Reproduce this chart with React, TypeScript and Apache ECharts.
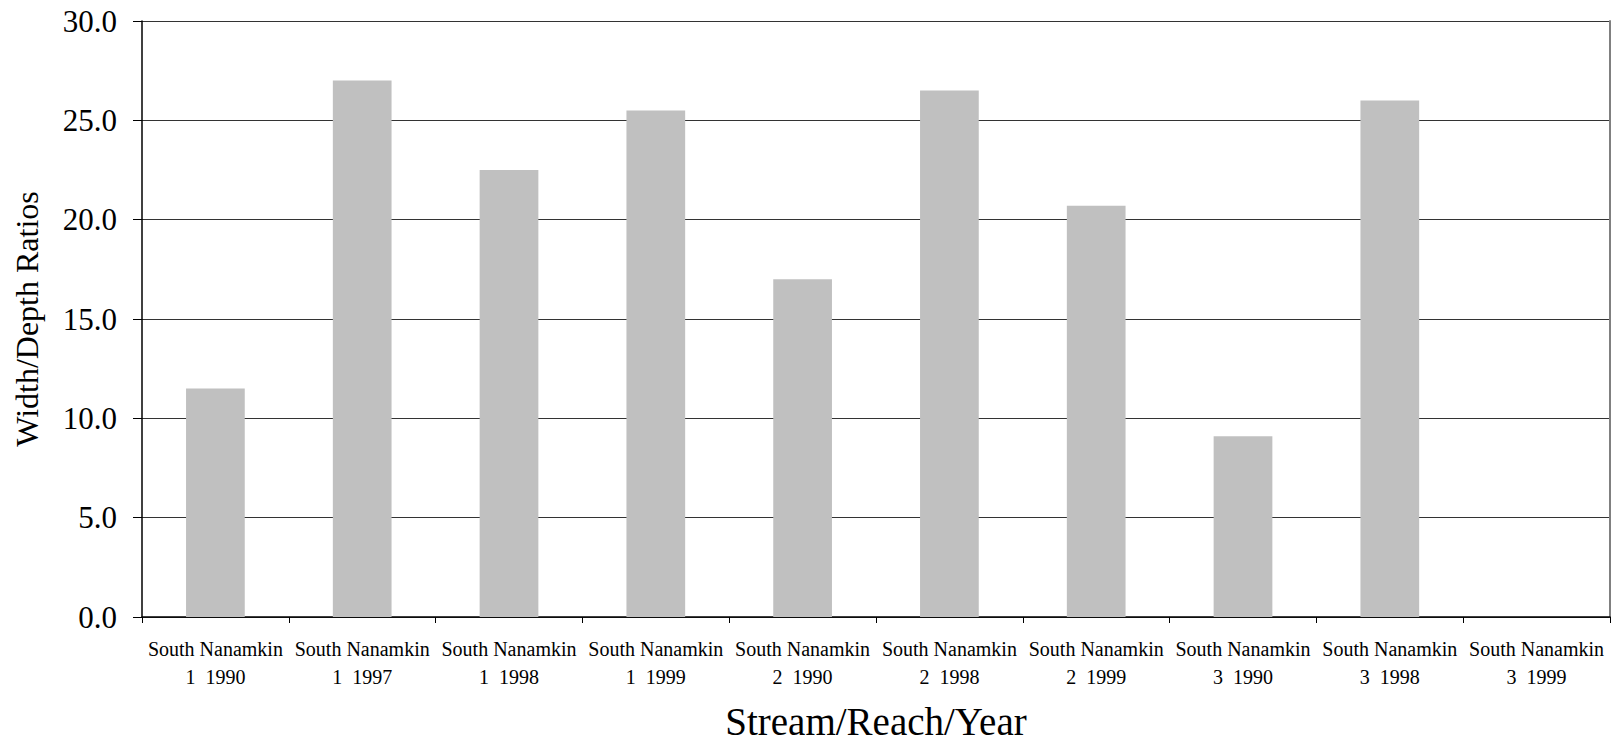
import React, { useEffect, useRef } from "react";
import * as echarts from "echarts";

const categories = [
  "South Nanamkin\n1  1990",
  "South Nanamkin\n1  1997",
  "South Nanamkin\n1  1998",
  "South Nanamkin\n1  1999",
  "South Nanamkin\n2  1990",
  "South Nanamkin\n2  1998",
  "South Nanamkin\n2  1999",
  "South Nanamkin\n3  1990",
  "South Nanamkin\n3  1998",
  "South Nanamkin\n3  1999",
];
const ratios: (number | null)[] = [11.5, 27.0, 22.5, 25.5, 17.0, 26.5, 20.7, 9.1, 26.0, null];

const FONT = "'Liberation Serif', 'Times New Roman', serif";

export default function App() {
  const ref = useRef<HTMLDivElement>(null);
  useEffect(() => {
    if (!ref.current) return;
    const chart = echarts.init(ref.current, null, { renderer: "svg" });
    chart.setOption({
      animation: false,
      backgroundColor: "#ffffff",
      grid: {
        left: 142,
        right: 6,
        top: 21,
        bottom: 130,
        containLabel: false,
        outerBoundsMode: "none",
      },
      xAxis: {
        type: "category",
        data: categories,
        boundaryGap: true,
        name: "Stream/Reach/Year",
        nameLocation: "middle",
        nameGap: 85,
        nameTextStyle: { fontFamily: FONT, fontSize: 39, color: "#000" },
        axisLine: { show: true, lineStyle: { color: "#000", width: 1.5 } },
        axisTick: { show: true, length: 6, alignWithLabel: false, lineStyle: { color: "#000" } },
        axisLabel: {
          interval: 0,
          fontFamily: FONT,
          fontSize: 20,
          color: "#000",
          lineHeight: 28,
          margin: 18,
        },
        splitLine: { show: false },
      },
      yAxis: [
        {
          type: "value",
          min: 0,
          max: 30,
          interval: 5,
          name: "Width/Depth Ratios",
          nameLocation: "middle",
          nameGap: 99,
          nameTextStyle: { fontFamily: FONT, fontSize: 32, color: "#000" },
          axisLine: { show: true, lineStyle: { color: "#000", width: 1.5 } },
          axisTick: { show: true, length: 9, lineStyle: { color: "#000" } },
          axisLabel: {
            fontFamily: FONT,
            fontSize: 31,
            color: "#000",
            margin: 25,
            formatter: (v: number) => v.toFixed(1),
          },
          splitLine: { show: true, lineStyle: { color: "#333", width: 1.2 } },
        },
        {
          type: "value",
          min: 0,
          max: 30,
          interval: 5,
          position: "right",
          axisLine: { show: true, lineStyle: { color: "#808080", width: 2 } },
          axisTick: { show: false },
          axisLabel: { show: false },
          splitLine: { show: false },
        },
      ],
      series: [
        {
          type: "bar",
          data: ratios,
          barWidth: "40%",
          itemStyle: { color: "#c0c0c0" },
          yAxisIndex: 0,
        },
      ],
    });
    return () => chart.dispose();
  }, []);
  return (
    <div
      ref={ref}
      style={{ position: "fixed", left: 0, top: 0, width: 1616, height: 747 }}
    />
  );
}
